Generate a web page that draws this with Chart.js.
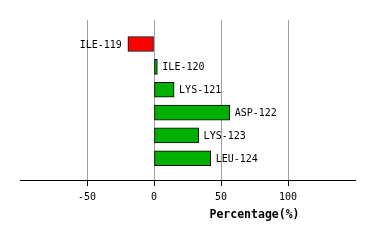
<!DOCTYPE html>
<html>
<head>
<meta charset="utf-8">
<script src="https://cdn.jsdelivr.net/npm/chart.js@4"></script>
<style>
  html, body { margin: 0; padding: 0; background: #fff; }
  canvas { display: block; }
</style>
</head>
<body>
<canvas id="chart" width="374" height="240"></canvas>
<script>
const residuos = ["ILE-119", "ILE-120", "LYS-121", "ASP-122", "LYS-123", "LEU-124"];
const porcentajes = [-19.5, 2.5, 15, 56.5, 33.3, 42.3];
const ticksX = [-50, 0, 50, 100];
const tituloX = "Percentage(%)";

const FUENTE = "'DejaVu Sans Mono', monospace";

// etiquetas al lado de cada barra
const etiquetasBarras = {
    id: "etiquetasBarras",
    afterDatasetsDraw(chart) {
        const ctx = chart.ctx;
        const meta = chart.getDatasetMeta(0);
        ctx.save();
        ctx.font = "10px " + FUENTE;
        ctx.fillStyle = "#000";
        ctx.textBaseline = "middle";
        meta.data.forEach((bar, i) => {
            const v = porcentajes[i];
            if (v < 0) {
                ctx.textAlign = "right";
                ctx.fillText(residuos[i], bar.x - 6, bar.y + 1);
            } else {
                ctx.textAlign = "left";
                ctx.fillText(residuos[i], bar.x + 5, bar.y + 1);
            }
        });
        ctx.restore();
    }
};

// titulo del eje x
const tituloEje = {
    id: "tituloEje",
    afterDraw(chart) {
        const ctx = chart.ctx;
        const sx = chart.scales.x;
        ctx.save();
        ctx.font = "bold 11.5px " + FUENTE;
        ctx.fillStyle = "#000";
        ctx.textAlign = "center";
        ctx.textBaseline = "middle";
        ctx.fillText(tituloX, sx.getPixelForValue(75), 215);
        ctx.restore();
    }
};

new Chart(document.getElementById("chart").getContext("2d"), {
    type: "bar",
    data: {
        datasets: [{
            data: porcentajes.map((v, i) => ({ x: v, y: i })),
            backgroundColor: porcentajes.map(v => v < 0 ? "#ff0000" : "#00b000"),
            borderColor: "#000",
            borderWidth: 1,
            borderSkipped: false,
            barThickness: 15,
        }]
    },
    options: {
        indexAxis: "y",
        responsive: false,
        animation: false,
        layout: { padding: { left: 20, right: 19, top: 20, bottom: 0 } },
        plugins: {
            legend: { display: false },
            tooltip: { enabled: false },
        },
        scales: {
            x: {
                type: "linear",
                min: -100,
                max: 150,
                afterBuildTicks: s => { s.ticks = ticksX.map(v => ({ value: v })); },
                afterFit: s => { s.height = 60; },
                grid: {
                    color: "#a0a0a0",
                    tickColor: "#000",
                    tickLength: 6,
                    lineWidth: 1,
                },
                border: { color: "#000", width: 1 },
                ticks: {
                    color: "#000",
                    font: { family: FUENTE, size: 10 },
                    padding: 5,
                    maxRotation: 0,
                },
            },
            y: {
                type: "linear",
                display: false,
                reverse: true,
                offset: false,
                min: -1.05,
                max: 5.95,
            }
        }
    },
    plugins: [etiquetasBarras, tituloEje]
});
</script>
</body>
</html>
